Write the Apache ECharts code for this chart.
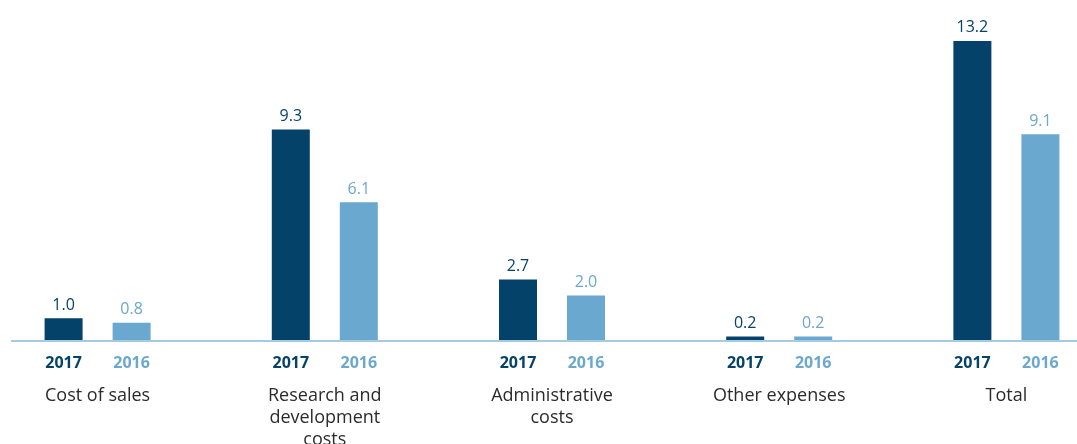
<!DOCTYPE html>
<html>
<head>
<meta charset="utf-8">
<script src="https://cdn.jsdelivr.net/npm/echarts@6/dist/echarts.min.js"></script>
<style>
html,body{margin:0;padding:0;background:#fff;overflow:hidden;width:1077px;height:444px}
#c{position:absolute;left:-16px;top:0;width:1136px;height:444px}
</style>
</head>
<body>
<div id="c"></div>
<script>
const categories = ['Cost of sales', 'Research and\ndevelopment\ncosts', 'Administrative\ncosts', 'Other expenses', 'Total'];
const years = ['2017', '2016'];
const values2017 = [1.0, 9.3, 2.7, 0.2, 13.2];
const values2016 = [0.8, 6.1, 2.0, 0.2, 9.1];

const NAVY = '#05426a';
const LIGHT = '#6aa8cf';
const FONT = 'Open Sans';
const SHIFT = 16; // container offset to the left

const chart = echarts.init(document.getElementById('c'), null, {renderer: 'canvas'});
const labelStyle = (color) => ({
  show: true, position: 'top', distance: 5,
  color: color, fontFamily: FONT, fontSize: 16, fontWeight: 500,
  formatter: p => p.value.toFixed(1)
});
chart.setOption({
  animation: false,
  grid: {left: 0, right: 0, top: 0, bottom: 103, containLabel: false, outerBoundsMode: 'none'},
  xAxis: {
    type: 'category', data: categories,
    axisLine: {show: false}, axisTick: {show: false},
    axisLabel: {
      interval: 0, margin: 0,
      formatter: (v) => '{a|' + years[0] + '}{b|' + years[1] + '}\n' +
        v.split('\n').map(s => '{n|' + s + '}').join('\n'),
      rich: {
        a: {width: 68, align: 'center', color: NAVY, fontWeight: 'bold', fontSize: 16, fontFamily: FONT, lineHeight: 44},
        b: {width: 68, align: 'center', color: LIGHT, fontWeight: 'bold', fontSize: 16, fontFamily: FONT, lineHeight: 44},
        n: {color: '#2b2b2b', fontSize: 18, fontFamily: FONT, lineHeight: 22}
      }
    }
  },
  yAxis: {type: 'value', min: 0, max: 15, show: false, splitLine: {show: false}},
  series: [
    {name: years[0], type: 'bar', data: values2017, barWidth: 38, barGap: '79%',
     itemStyle: {color: NAVY}, label: labelStyle(NAVY)},
    {name: years[1], type: 'bar', data: values2016, barWidth: 38, barGap: '79%',
     itemStyle: {color: LIGHT}, label: labelStyle(LIGHT)}
  ]
});
const y0 = chart.convertToPixel({yAxisIndex: 0}, 0);
chart.setOption({
  graphic: [{type: 'line', z: 100, shape: {x1: 11 + SHIFT, y1: y0, x2: chart.getWidth(), y2: y0},
             style: {stroke: '#a3cbe4', lineWidth: 2}}]
});
</script>
</body>
</html>
